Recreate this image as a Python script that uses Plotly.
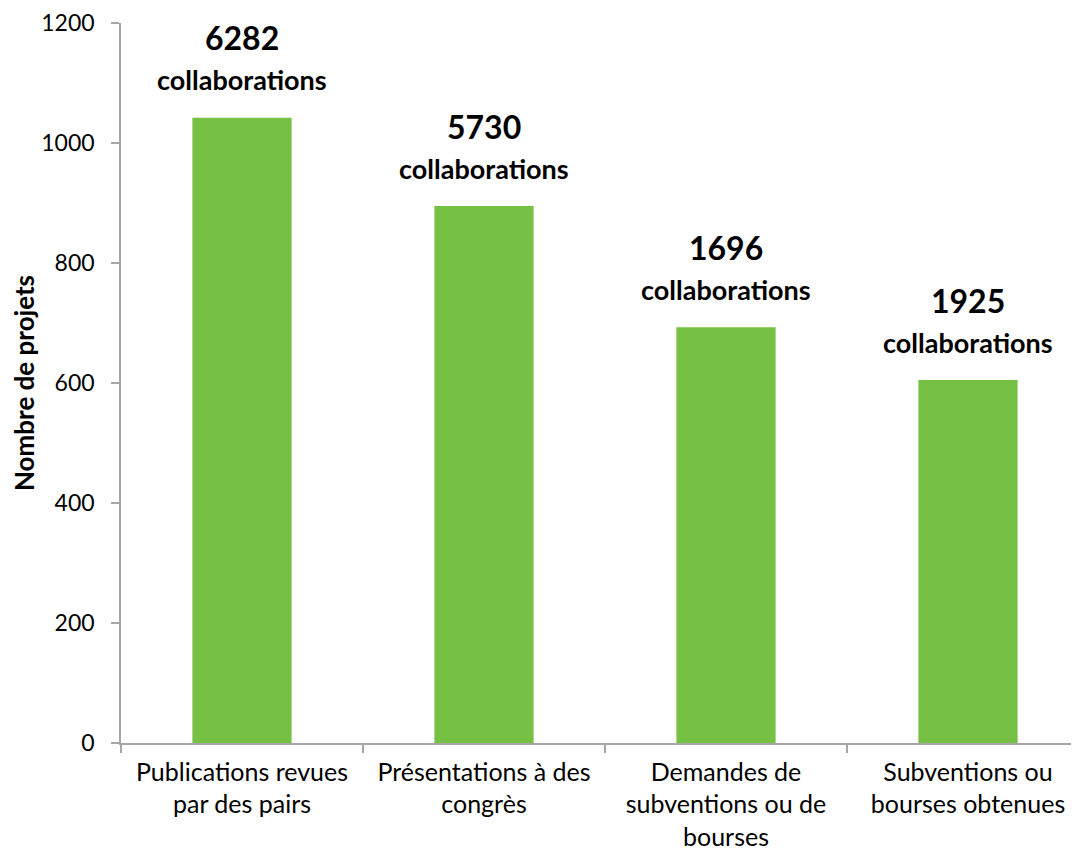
import plotly.graph_objects as go

# data
categories = ["Publications revues<br>par des pairs",
              "Présentations à des<br>congrès",
              "Demandes de<br>subventions ou de<br>bourses",
              "Subventions ou<br>bourses obtenues"]
projets = [1042, 895, 693, 605]
collaborations = ["6282", "5730", "1696", "1925"]
y_ticks = [0, 200, 400, 600, 800, 1000, 1200]

green = "#76C043"
axis_grey = "#A6A6A6"
font = "Lato"

fig = go.Figure()
fig.add_trace(go.Bar(x=categories, y=projets, marker_color=green,
                     marker_line_width=0, width=0.41, hoverinfo="x+y"))

# number + "collaborations" labels above each bar
for cat, val, n in zip(categories, projets, collaborations):
    fig.add_annotation(x=cat, y=val, text="<b>" + n + "</b>", showarrow=False,
                       yanchor="middle", yshift=80,
                       font=dict(family=font, size=32, color="black"))
    fig.add_annotation(x=cat, y=val, text="<b>collaborations</b>", showarrow=False,
                       yanchor="middle", yshift=38,
                       font=dict(family=font, size=27, color="black"))

# page has an 8px body margin, so the figure is a bit smaller than the window
fig.update_layout(
    width=1071, height=844,
    margin=dict(l=113, r=0, t=15, b=109),
    paper_bgcolor="white", plot_bgcolor="white",
    showlegend=False,
    font=dict(family=font, color="black"),
)
fig.update_xaxes(
    range=[-0.5, -0.5 + 958 / 242], automargin=False,
    showline=True, linecolor=axis_grey, linewidth=1.5,
    ticks="outside", tickson="boundaries", ticklen=8, tickcolor=axis_grey, tickwidth=1.5,
    tickfont=dict(family=font, size=25, color="black"),
    ticklabelstandoff=6,
    showgrid=False, zeroline=False,
)
fig.update_yaxes(
    range=[0, 1200], tickvals=y_ticks, automargin=False,
    showline=True, linecolor=axis_grey, linewidth=1.5,
    ticks="outside", ticklen=8, tickcolor=axis_grey, tickwidth=1.5,
    tickfont=dict(family=font, size=23, color="black"),
    ticklabelstandoff=12,
    showgrid=False, zeroline=False,
    title=dict(text="<b>Nombre de projets</b>", standoff=18,
               font=dict(family=font, size=26, color="black")),
)

fig.write_html("out.html")
